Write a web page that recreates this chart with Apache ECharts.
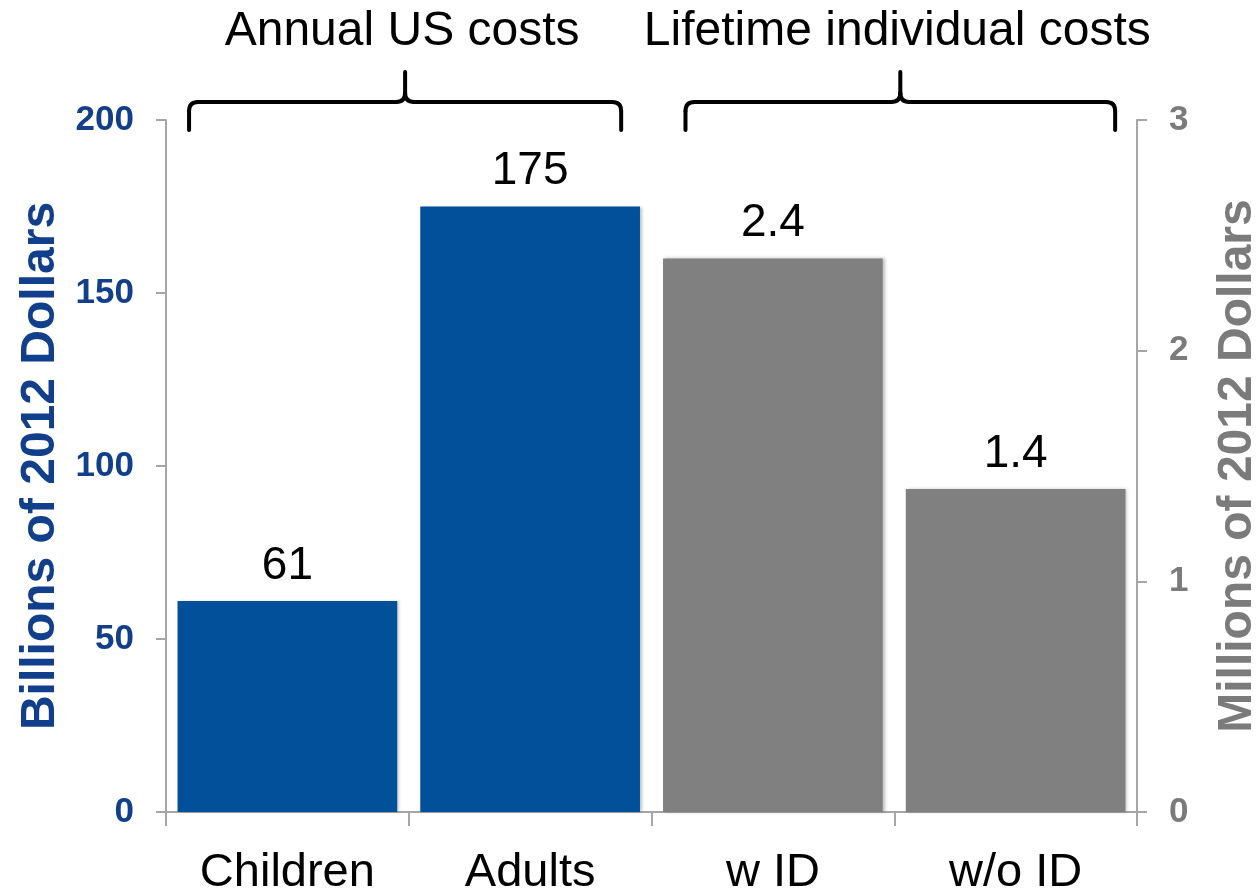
<!DOCTYPE html>
<html>
<head>
<meta charset="utf-8">
<title>Costs of autism</title>
<script src="https://cdn.jsdelivr.net/npm/echarts@6/dist/echarts.min.js"></script>
<style>
  html, body { margin: 0; padding: 0; background: #ffffff; }
  #chart { width: 1257px; height: 896px; }
</style>
</head>
<body>
<div id="chart"></div>
<script>
// Cost categories along the bottom axis
const categories = ['Children', 'Adults', 'w ID', 'w/o ID'];
// Annual US costs, billions of 2012 dollars (left axis)
const annualCosts = [61, 175, null, null];
// Lifetime individual costs, millions of 2012 dollars (right axis)
const lifetimeCosts = [null, null, 2.4, 1.4];
// Left and right axis ranges and tick steps
const leftAxisRange = [0, 200, 50];
const rightAxisRange = [0, 3, 1];
// Group headings drawn above the braces
const groupTitles = ['Annual US costs', 'Lifetime individual costs'];

const FONT = '"Liberation Sans", Arial, Helvetica, sans-serif';
const BLUE = '#024f9a';
const BLUE_TEXT = '#123f8c';
const GRAY = '#808080';
const GRAY_TEXT = '#7b7b7b';
const AXIS = '#a6a6a6';

const chart = echarts.init(document.getElementById('chart'), null, { renderer: 'canvas' });

const labelStyle = {
  show: true,
  position: 'top',
  distance: 12,
  color: '#000',
  fontFamily: FONT,
  fontSize: 46
};

chart.setOption({
  animation: false,
  backgroundColor: '#ffffff',
  grid: { left: 166, right: 120, top: 120, bottom: 84, containLabel: false, outerBoundsMode: 'none' },
  xAxis: {
    type: 'category',
    data: categories,
    axisLine: { lineStyle: { color: AXIS, width: 2 } },
    axisTick: { show: true, length: 14, lineStyle: { color: AXIS, width: 2 } },
    axisLabel: { color: '#000', fontFamily: FONT, fontSize: 47, margin: 38 }
  },
  yAxis: [
    {
      type: 'value',
      position: 'left',
      min: leftAxisRange[0], max: leftAxisRange[1], interval: leftAxisRange[2],
      name: 'Billions of 2012 Dollars',
      nameLocation: 'middle',
      nameRotate: 90,
      nameGap: 100,
      nameTextStyle: { color: BLUE_TEXT, fontFamily: FONT, fontSize: 48, fontWeight: 'bold' },
      splitLine: { show: false },
      axisLine: { show: true, lineStyle: { color: AXIS, width: 2 } },
      axisTick: { show: true, length: 10, lineStyle: { color: AXIS, width: 2 } },
      axisLabel: { color: BLUE_TEXT, fontFamily: FONT, fontSize: 35, fontWeight: 'bold', margin: 32 }
    },
    {
      type: 'value',
      position: 'right',
      min: rightAxisRange[0], max: rightAxisRange[1], interval: rightAxisRange[2],
      name: 'Millions of 2012 Dollars',
      nameLocation: 'middle',
      nameRotate: 90,
      nameGap: 77,
      nameTextStyle: { color: GRAY_TEXT, fontFamily: FONT, fontSize: 48, fontWeight: 'bold' },
      splitLine: { show: false },
      axisLine: { show: true, lineStyle: { color: AXIS, width: 2 } },
      axisTick: { show: true, length: 10, lineStyle: { color: AXIS, width: 2 } },
      axisLabel: { color: GRAY_TEXT, fontFamily: FONT, fontSize: 35, fontWeight: 'bold', margin: 32 }
    }
  ],
  series: [
    {
      name: 'Annual US costs',
      type: 'bar',
      yAxisIndex: 0,
      data: annualCosts.map(v => v === null ? '-' : v),
      barGap: '-100%',
      barCategoryGap: '9.5%',
      itemStyle: { color: BLUE, shadowColor: 'rgba(0,0,0,0.25)', shadowBlur: 3, shadowOffsetX: 2 },
      label: labelStyle
    },
    {
      name: 'Lifetime individual costs',
      type: 'bar',
      yAxisIndex: 1,
      data: lifetimeCosts.map(v => v === null ? '-' : v),
      barGap: '-100%',
      barCategoryGap: '9.5%',
      itemStyle: { color: GRAY, shadowColor: 'rgba(0,0,0,0.25)', shadowBlur: 3, shadowOffsetX: 2 },
      label: labelStyle
    }
  ]
});

// Curly braces grouping the two pairs of bars, positioned in category units
function catX(pos) {
  const a = chart.convertToPixel({ xAxisIndex: 0 }, 0);
  const b = chart.convertToPixel({ xAxisIndex: 0 }, 1);
  return a + (b - a) * pos;
}

const braceStyle = { fill: null, stroke: '#000', lineWidth: 4, lineCap: 'round' };

function braceElements(x0, x1, yEnd, yBar, yTip) {
  const cx = (x0 + x1) / 2;
  const r = 9;
  const line = (ax, ay, bx, by) => ({ type: 'line', shape: { x1: ax, y1: ay, x2: bx, y2: by }, style: braceStyle });
  const curve = (ax, ay, cpx, cpy, bx, by) => ({
    type: 'bezierCurve',
    shape: { x1: ax, y1: ay, cpx1: cpx, cpy1: cpy, x2: bx, y2: by },
    style: braceStyle
  });
  return [
    line(x0, yEnd, x0, yBar + r),
    curve(x0, yBar + r, x0, yBar, x0 + r, yBar),
    line(x0 + r, yBar, cx - r, yBar),
    curve(cx - r, yBar, cx, yBar, cx, yBar - r),
    line(cx, yBar - r, cx, yTip),
    curve(cx, yBar - r, cx, yBar, cx + r, yBar),
    line(cx + r, yBar, x1 - r, yBar),
    curve(x1 - r, yBar, x1, yBar, x1, yBar + r),
    line(x1, yBar + r, x1, yEnd)
  ];
}

const braceSpans = [[-0.405, 1.375], [1.64, 3.41]];
let graphics = [];
braceSpans.forEach((span, i) => {
  const x0 = catX(span[0]);
  const x1 = catX(span[1]);
  graphics = graphics.concat(braceElements(x0, x1, 130, 102, 72));
  graphics.push({
    type: 'text',
    x: (x0 + x1) / 2 - 3,
    y: 32,
    style: {
      text: groupTitles[i],
      fill: '#000',
      font: '48px ' + FONT,
      textAlign: 'center',
      textVerticalAlign: 'middle'
    }
  });
});
chart.setOption({ graphic: graphics });
</script>
</body>
</html>
